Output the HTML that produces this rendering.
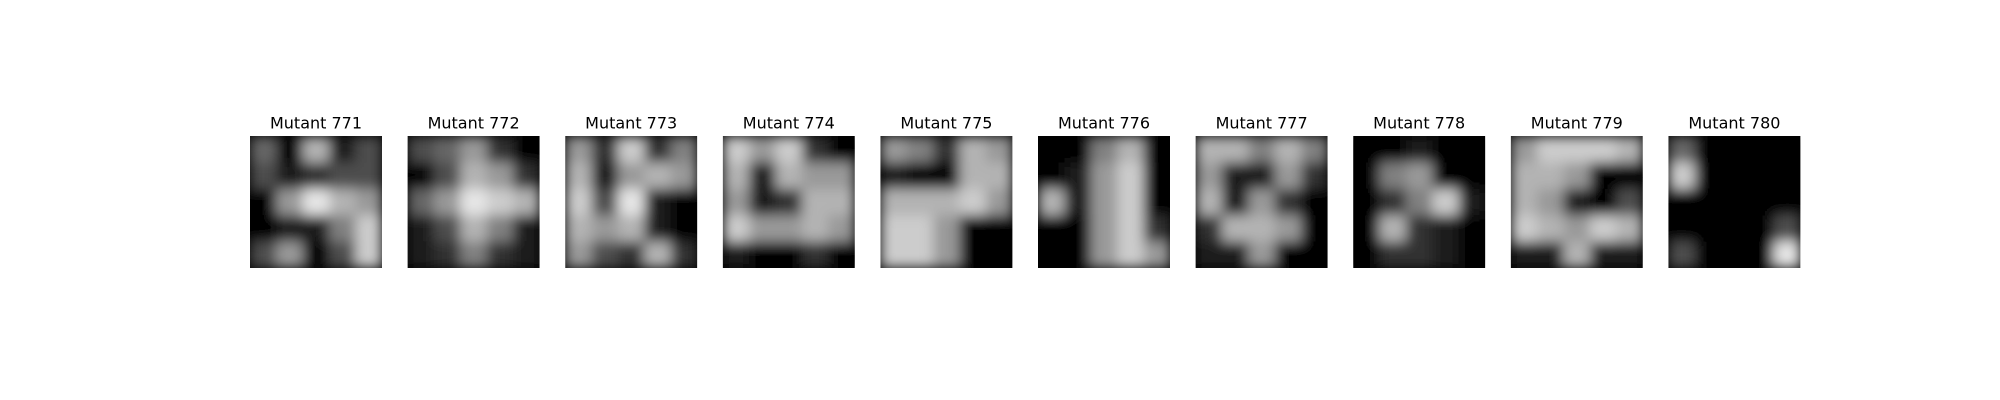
<!DOCTYPE html>
<html><head><meta charset="utf-8"><style>
html,body{margin:0;padding:0;background:#fff;}
svg{display:block;font-family:"DejaVu Sans","Liberation Sans",sans-serif;}
</style></head><body>
<svg id="fig" width="2000" height="400" viewBox="0 0 2000 400" xmlns="http://www.w3.org/2000/svg">
<defs>
<filter id="blur" x="0" y="0" width="1" height="1"><feGaussianBlur stdDeviation="6.5" edgeMode="duplicate"/></filter>
</defs>
<rect width="2000" height="400" fill="#fff"/>
</svg>
<script>
const titles = ["Mutant 771","Mutant 772","Mutant 773","Mutant 774","Mutant 775","Mutant 776","Mutant 777","Mutant 778","Mutant 779","Mutant 780"];
const grid771 = [[0.4,0,0.7,0.1,0.3],[0.3,0.1,0.2,0.3,0.3],[0,0.6,0.9,0.7,0.6],[0,0.1,0.1,0.5,0.8],[0.3,0.6,0,0.3,0.8]];
const grid772 = [[0.3,0.4,0.6,0.2,0],[0,0.3,0.7,0.6,0.2],[0.4,0.6,0.9,0.8,0.7],[0.1,0.3,0.7,0.5,0.1],[0.1,0.2,0.5,0.2,0.1]];
const grid773 = [[0.6,0.2,0.8,0.2,0.5],[0.7,0.1,0.6,0.7,0.6],[0.8,0.3,0.9,0.1,0],[0.7,0.6,0.7,0.1,0],[0.6,0.3,0.2,0.7,0.2]];
const grid774 = [[0.8,0.6,0.8,0.2,0],[0.7,0.1,0.7,0.6,0.6],[0.6,0.1,0.2,0.7,0.7],[0.8,0.6,0.6,0.7,0.6],[0.1,0,0,0.2,0]];
const grid775 = [[0.6,0.5,0.2,0.7,0.6],[0.1,0,0,0.7,0.7],[0.7,0.7,0.7,0.8,0.6],[0.8,0.8,0.6,0,0],[0.8,0.8,0.6,0,0]];
const grid776 = [[0,0,0.5,0.7,0],[0,0.1,0.6,0.8,0],[0.7,0.1,0.6,0.8,0],[0,0,0.6,0.8,0.2],[0,0,0.6,0.8,0.6]];
const grid777 = [[0.7,0.7,0.5,0.7,0.5],[0.6,0.1,0.1,0.6,0.2],[0.7,0.1,0.6,0.2,0],[0.2,0.7,0.7,0.6,0],[0.1,0.1,0.6,0,0]];
const grid778 = [[0,0,0.1,0,0],[0,0.5,0.6,0,0],[0,0.2,0.5,0.8,0.1],[0,0.7,0.2,0.1,0],[0,0.2,0.2,0.1,0]];
const grid779 = [[0.6,0.8,0.8,0.8,0.7],[0.7,0.7,0.6,0,0],[0.7,0.6,0.1,0,0.3],[0.8,0.7,0.6,0.8,0.7],[0.1,0.1,0.7,0.1,0.1]];
const grid780 = [[0.4,0,0,0,0],[0.8,0,0,0,0],[0,0,0,0,0],[0,0,0,0,0.3],[0.3,0,0,0,0.9]];
const grids = [grid771,grid772,grid773,grid774,grid775,grid776,grid777,grid778,grid779,grid780];

const NS = "http://www.w3.org/2000/svg";
const svg = document.getElementById("fig");
const x0 = 250, pitch = 157.6, size = 132, y0 = 136;
const defs = svg.querySelector("defs");
function panelX(i){ return x0 + i*pitch; }
function shade(v){ const c = Math.round(Math.max(0,Math.min(1,v))*255); return `rgb(${c},${c},${c})`; }

titles.forEach((t,i)=>{
  const px = panelX(i);
  const cp = document.createElementNS(NS,"clipPath");
  cp.setAttribute("id","clip"+i);
  const cr = document.createElementNS(NS,"rect");
  cr.setAttribute("x",px); cr.setAttribute("y",y0); cr.setAttribute("width",size); cr.setAttribute("height",size);
  cp.appendChild(cr); defs.appendChild(cp);

  const g = document.createElementNS(NS,"g");
  
  
  g.setAttribute("clip-path","url(#clip"+i+")");
  const bg = document.createElementNS(NS,"rect");
  bg.setAttribute("x",px); bg.setAttribute("y",y0); bg.setAttribute("width",size); bg.setAttribute("height",size); bg.setAttribute("fill","#000");
  g.appendChild(bg);
  const inner = document.createElementNS(NS,"g");
  inner.setAttribute("filter","url(#blur)");
  const grid = grids[i];
  const n = grid.length, cs = size/n;
  grid.forEach((row,r)=>row.forEach((v,c)=>{
    const rc = document.createElementNS(NS,"rect");
    
    
    rc.setAttribute("x",px + c*cs); rc.setAttribute("y",y0 + r*cs);
    rc.setAttribute("width",cs+0.5); rc.setAttribute("height",cs+0.5);
    rc.setAttribute("fill",shade(v));
    inner.appendChild(rc);
  }));
  g.appendChild(inner);
  svg.appendChild(g);

  const tx = document.createElementNS(NS,"text");
  
  
  tx.setAttribute("x",px + size/2); tx.setAttribute("y",128.5);
  tx.setAttribute("text-anchor","middle"); tx.setAttribute("font-size","16");
  tx.setAttribute("fill","#000");
  tx.textContent = t;
  svg.appendChild(tx);
});
</script>
</body></html>
